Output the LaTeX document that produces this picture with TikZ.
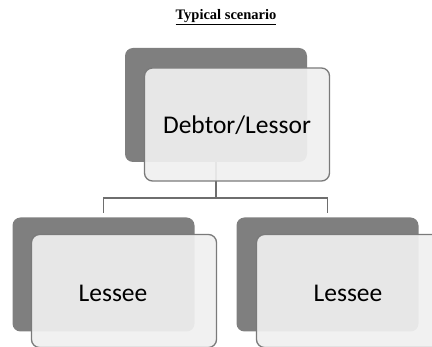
\documentclass[tikz,border=0pt]{standalone}
\usepackage{fontspec}
\setmainfont{Liberation Serif}
\newfontfamily\boxfont{Carlito}

\definecolor{backgray}{HTML}{7F7F7F}
\definecolor{frontfill}{HTML}{F0F0F0}
\definecolor{edgegray}{HTML}{7A7A7A}
\definecolor{linkgray}{HTML}{6E6E6E}

\tikzset{
  backbox/.style = {draw=none, fill=backgray, rounded corners=8pt,
                    minimum width=182pt, minimum height=114pt, inner sep=0pt},
  frontbox/.style = {draw=edgegray, line width=1.3pt, fill=frontfill, fill opacity=0.92,
                     rounded corners=8pt, minimum width=185pt, minimum height=113pt, inner sep=0pt},
  boxtext/.style = {font=\boxfont\fontsize{25.5pt}{30pt}\selectfont, text=black, inner sep=0pt},
  link/.style = {draw=linkgray, line width=1.8pt}
}

\begin{document}
\begin{tikzpicture}[x=1pt, y=-1pt]
\clip (0,0) rectangle (432,347); % page frame

\node[font=\bfseries\fontsize{14.5pt}{17pt}\selectfont] (title) at (226,17) {\underline{Typical scenario}}; % heading

% shadow boxes
\node[backbox] (topback) at (216,105) {};
\node[backbox] (leftback) at (103.5,274.5) {};
\node[backbox] (rightback) at (327.5,274.5) {};

% tree lines
\coordinate (leftend) at (103.5,213);
\coordinate (rightend) at (327.5,213);
\draw[link] (topback.south) -- ++(0,36) -| (leftend);
\draw[link] (topback.south) -- ++(0,36) -| (rightend);

% front boxes
\node[frontbox] (topfront) at (237,124.5) {};
\node[frontbox] (leftfront) at (124,291) {};
\node[frontbox] (rightfront) at (349,291) {};

% labels
\node[boxtext] (toptext) at (237,125) {Debtor/Lessor};
\node[boxtext] (lefttext) at (113,293) {Lessee};
\node[boxtext] (righttext) at (348,293) {Lessee};

\end{tikzpicture}
\end{document}
